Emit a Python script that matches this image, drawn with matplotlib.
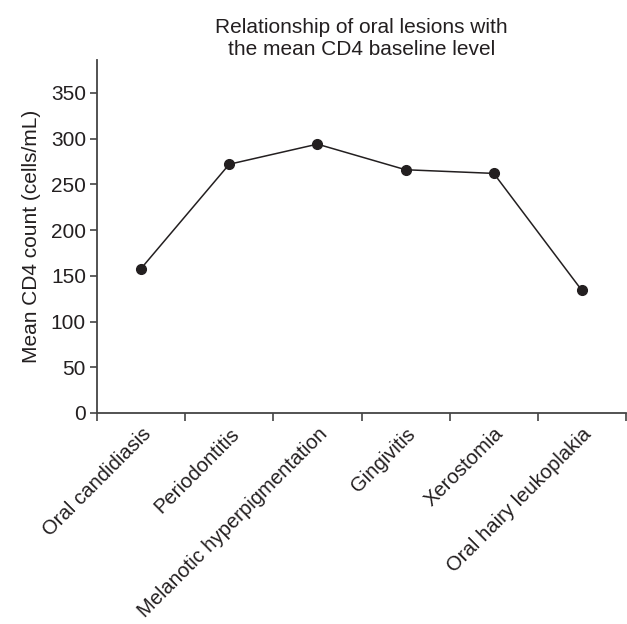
import matplotlib
matplotlib.use("Agg")
import matplotlib.pyplot as plt
import numpy as np

categories = ["Oral candidiasis", "Periodontitis", "Melanotic hyperpigmentation",
              "Gingivitis", "Xerostomia", "Oral hairy leukoplakia"]
cd4_mean = [158, 272, 294, 266, 262, 134]
yticks = [0, 50, 100, 150, 200, 250, 300, 350]
title_lines = ["Relationship of oral lesions with", "the mean CD4 baseline level"]

ink = '#231f20'
plt.rcParams['font.family'] = ['Liberation Sans', 'DejaVu Sans']
fig = plt.figure(figsize=(6.27, 6.24), dpi=100)
ax = fig.add_axes([97/627, 1-413/624, (626-97)/627, (413-60)/624])

x = np.arange(len(categories))
ax.plot(x, cd4_mean, color=ink, lw=1.1, marker='o', ms=7, mfc=ink, mec=ink)

ax.set_xlim(-0.5, len(categories)-0.5)
ax.set_ylim(0, 386)
ax.set_yticks(yticks)
ax.set_xticks(x)
ax.set_xticklabels(categories, rotation=45, ha='right', rotation_mode='anchor')
ax.set_xticks(np.arange(len(categories)+1)-0.5, minor=True)
ax.tick_params(axis='x', which='major', length=0, pad=8, labelsize=14.6, colors=ink)
ax.tick_params(axis='x', which='minor', length=6, width=1.2, color='#444444', direction='out')
ax.tick_params(axis='y', length=5, width=1.2, color='#444444', labelsize=15, labelcolor=ink, pad=3)
for s in ['top', 'right']:
    ax.spines[s].set_visible(False)
for s in ['left', 'bottom']:
    ax.spines[s].set_linewidth(1.3)
    ax.spines[s].set_color('#444444')
ax.set_ylabel("Mean CD4 count (cells/mL)", fontsize=15, color=ink, labelpad=7)
fig.text(361.5/627, 1-33/624, title_lines[0], ha='center', va='baseline', fontsize=15, color=ink)
fig.text(361.5/627, 1-55/624, title_lines[1], ha='center', va='baseline', fontsize=15, color=ink)
fig.savefig("out.png", dpi=100)
